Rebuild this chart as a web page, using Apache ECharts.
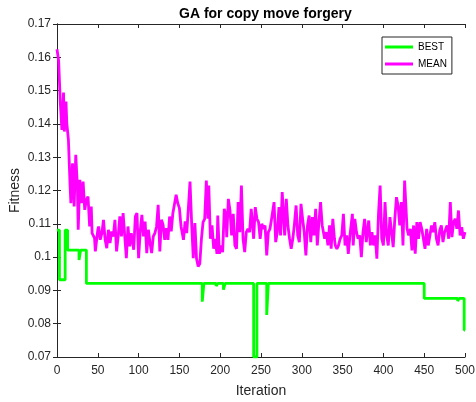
<!DOCTYPE html>
<html>
<head>
<meta charset="utf-8">
<script src="https://cdn.jsdelivr.net/npm/echarts@6/dist/echarts.min.js"></script>
<style>
  html, body { margin: 0; padding: 0; background: #fff; }
  #chart { width: 476px; height: 402px; }
</style>
</head>
<body>
<div id="chart"></div>
<script>
// best fitness: iteration where each level starts, and its value
const bestIter = [0, 3, 10, 13, 27, 29, 36, 178, 180, 195, 197, 204, 206, 241, 245, 257, 259, 450, 491, 493, 499, 500];
const bestValue = [0.1081, 0.0932, 0.1081, 0.1021, 0.0991, 0.1021, 0.0921, 0.0866, 0.0921, 0.0913, 0.0921, 0.0902, 0.0921, 0.07, 0.0921, 0.0826, 0.0921, 0.0876, 0.0868, 0.0876, 0.0781, 0.0781];

// mean fitness
const meanIter = [
  0, 1, 2, 4, 6, 8, 9, 11, 12, 14, 16, 17, 19, 21, 23, 25, 26, 28, 30, 32,
  34, 36, 38, 40, 42, 43, 46, 47, 50, 51, 53, 55, 57, 59, 61, 63, 65, 67, 69, 71,
  73, 75, 77, 79, 81, 83, 85, 87, 89, 91, 94, 96, 98, 100, 102, 104, 106, 108, 110, 112,
  114, 116, 118, 120, 122, 124, 126, 128, 130, 132, 134, 136, 138, 140, 142, 144, 146, 148, 150, 152,
  155, 157, 159, 161, 163, 165, 167, 169, 171, 173, 175, 177, 179, 181, 183, 185, 186, 188, 190, 192,
  194, 196, 197, 199, 201, 203, 205, 207, 208, 210, 212, 214, 216, 218, 220, 222, 224, 226, 228, 230,
  232, 234, 236, 238, 241, 243, 245, 247, 249, 251, 253, 255, 257, 259, 261, 263, 265, 266, 268, 270,
  272, 274, 276, 279, 281, 283, 285, 287, 289, 291, 293, 295, 297, 299, 301, 303, 305, 307, 309, 311,
  313, 315, 317, 319, 321, 323, 325, 328, 330, 332, 334, 336, 338, 340, 341, 343, 345, 347, 349, 351,
  353, 355, 357, 359, 362, 363, 365, 367, 369, 371, 373, 375, 377, 379, 382, 384, 386, 388, 390, 392,
  394, 396, 398, 400, 402, 404, 406, 408, 410, 412, 414, 416, 418, 420, 422, 424, 426, 429, 431, 433,
  435, 437, 439, 441, 443, 445, 447, 449, 451, 453, 455, 457, 459, 461, 463, 465, 467, 469, 471, 473,
  475, 478, 480, 482, 484, 486, 488, 490, 492, 494, 496, 498, 500
];
const meanValue = [
  0.1624, 0.1620, 0.1590, 0.1467, 0.1382, 0.1494, 0.1377, 0.1467, 0.1402, 0.1352, 0.1217, 0.1162, 0.1282, 0.1152, 0.1307, 0.1212, 0.1082, 0.1232, 0.1162, 0.1227,
  0.1142, 0.1172, 0.1182, 0.1092, 0.1152, 0.1072, 0.1057, 0.1017, 0.1082, 0.1092, 0.1052, 0.1072, 0.1112, 0.1052, 0.1027, 0.1082, 0.1042, 0.1077, 0.1062, 0.1112,
  0.1017, 0.1062, 0.1122, 0.1062, 0.1132, 0.1137, 0.0997, 0.1092, 0.1032, 0.1072, 0.1022, 0.1122, 0.1132, 0.0997, 0.1077, 0.1127, 0.1062, 0.1107, 0.1012, 0.1082,
  0.1042, 0.1012, 0.1062, 0.1072, 0.1092, 0.1157, 0.1017, 0.1112, 0.1097, 0.1052, 0.1087, 0.1052, 0.1122, 0.1077, 0.1132, 0.1132, 0.1187, 0.1162, 0.1147, 0.1092,
  0.1052, 0.1107, 0.1072, 0.1147, 0.1227, 0.1102, 0.0997, 0.1102, 0.0995, 0.0972, 0.0980, 0.1055, 0.1105, 0.1115, 0.1230, 0.1115, 0.1215, 0.1055, 0.1095, 0.1025,
  0.1055, 0.1010, 0.1125, 0.1010, 0.1035, 0.1015, 0.1145, 0.1125, 0.1060, 0.1175, 0.1140, 0.1065, 0.1130, 0.1035, 0.1025, 0.1165, 0.1075, 0.1215, 0.1055, 0.1015,
  0.1075, 0.1085, 0.1075, 0.1145, 0.1055, 0.1150, 0.1115, 0.1105, 0.1055, 0.1100, 0.1085, 0.1095, 0.1005, 0.1075, 0.1085, 0.1115, 0.1115, 0.1165, 0.1045, 0.1075,
  0.1150, 0.1065, 0.1195, 0.1065, 0.1175, 0.1095, 0.1055, 0.1025, 0.1055, 0.1100, 0.1155, 0.1065, 0.1045, 0.1160, 0.1115, 0.1075, 0.1005, 0.1095, 0.1125, 0.1045,
  0.1120, 0.1065, 0.1145, 0.1035, 0.1105, 0.1165, 0.1095, 0.1055, 0.1075, 0.1035, 0.1095, 0.1025, 0.1115, 0.1055, 0.1035, 0.1025, 0.1035, 0.1055, 0.1065, 0.1130,
  0.1035, 0.1065, 0.1010, 0.1065, 0.1130, 0.1035, 0.1115, 0.1075, 0.1055, 0.1065, 0.1000, 0.1075, 0.1115, 0.1045, 0.1110, 0.1035, 0.1075, 0.1035, 0.1065, 0.0995,
  0.1130, 0.1215, 0.1055, 0.1035, 0.1165, 0.1065, 0.1035, 0.1120, 0.1075, 0.1030, 0.1115, 0.1180, 0.1155, 0.1095, 0.1165, 0.1035, 0.1230, 0.1085, 0.1065, 0.1085,
  0.1020, 0.1095, 0.1010, 0.1105, 0.1055, 0.1105, 0.1085, 0.1055, 0.1025, 0.1085, 0.1035, 0.1065, 0.1095, 0.1075, 0.1105, 0.1055, 0.1035, 0.1080, 0.1095, 0.1045,
  0.1075, 0.1095, 0.1055, 0.1165, 0.1060, 0.1105, 0.1115, 0.1085, 0.1140, 0.1065, 0.1090, 0.1055, 0.1075
];

const xTicks = { min: 0, max: 500, step: 50 };
const yTicks = { min: 0.07, max: 0.17, step: 0.01 };

const axisColor = "#262626";
const font = "'Liberation Sans', Arial, Helvetica, sans-serif";

const chart = echarts.init(document.getElementById("chart"), null, { renderer: "canvas" });

const fmtY = (v) => String(+v.toFixed(2));

const xBase = {
  type: "value",
  min: xTicks.min,
  max: xTicks.max,
  interval: xTicks.step,
  splitLine: { show: false },
  axisLine: { lineStyle: { color: axisColor, width: 1 } },
  axisTick: { inside: true, length: 4, lineStyle: { color: axisColor } },
};
const yBase = {
  type: "value",
  min: yTicks.min,
  max: yTicks.max,
  interval: yTicks.step,
  splitLine: { show: false },
  axisLine: { show: true, lineStyle: { color: axisColor, width: 1 } },
  axisTick: { show: true, inside: true, length: 4, lineStyle: { color: axisColor } },
};

chart.setOption({
  backgroundColor: "#ffffff",
  animation: false,
  title: {
    text: "GA for copy move forgery",
    left: 174,
    top: 2,
    textStyle: { fontFamily: font, fontSize: 14, fontWeight: "bold", color: "#000" },
  },
  grid: { left: 57, right: 11, top: 24, bottom: 45, containLabel: false, outerBoundsMode: "none" },
  legend: {
    orient: "vertical",
    left: 382,
    top: 37,
    icon: "rect",
    itemWidth: 28,
    itemHeight: 3,
    itemGap: 7,
    padding: [5, 5, 5, 3],
    backgroundColor: "#fff",
    borderColor: axisColor,
    borderWidth: 1,
    borderRadius: 0,
    textStyle: { fontFamily: font, fontSize: 10, color: "#000" },
    data: ["BEST", "MEAN"],
  },
  xAxis: [
    Object.assign({}, xBase, {
      position: "bottom",
      name: "Iteration",
      nameLocation: "middle",
      nameGap: 27,
      nameMoveOverlap: false,
      nameTextStyle: { fontFamily: font, fontSize: 14, color: axisColor },
      axisLabel: { margin: 8, fontFamily: font, fontSize: 12, color: axisColor },
    }),
    Object.assign({}, xBase, { position: "top", axisLabel: { show: false } }),
  ],
  yAxis: [
    Object.assign({}, yBase, {
      position: "left",
      name: "Fitness",
      nameLocation: "middle",
      nameGap: 35,
      nameMoveOverlap: false,
      nameTextStyle: { fontFamily: font, fontSize: 14, color: axisColor },
      axisLabel: { margin: 6, fontFamily: font, fontSize: 12, color: axisColor, formatter: fmtY },
    }),
    Object.assign({}, yBase, { position: "right", axisLabel: { show: false } }),
  ],
  series: [
    {
      name: "BEST",
      type: "line",
      step: "end",
      showSymbol: false,
      symbol: "none",
      color: "#00ff00",
      lineStyle: { color: "#00ff00", width: 2.8 },
      data: bestIter.map((it, i) => [it, bestValue[i]]),
      z: 2,
    },
    {
      name: "MEAN",
      type: "line",
      showSymbol: false,
      symbol: "none",
      color: "#ff00ff",
      lineStyle: { color: "#ff00ff", width: 2.8 },
      data: meanIter.map((it, i) => [it, meanValue[i]]),
      z: 3,
    },
  ],
});
</script>
</body>
</html>
